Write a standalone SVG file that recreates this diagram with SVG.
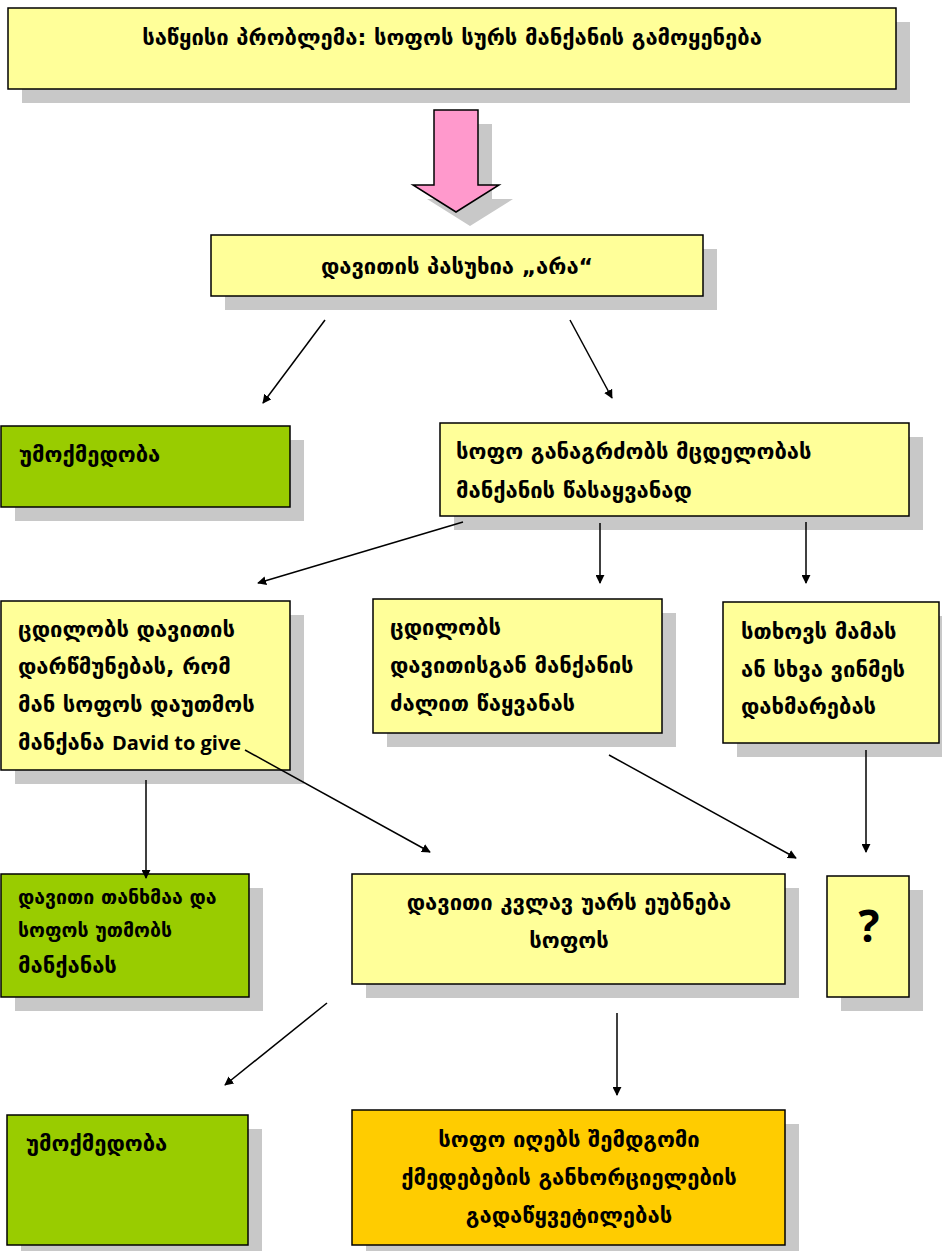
<svg xmlns="http://www.w3.org/2000/svg" width="942" height="1251" viewBox="0 0 942 1251">
<defs>
<style>
.sh{fill:#C8C8C8}
.y{fill:#FFFF99;stroke:#000;stroke-width:1.5}
.g{fill:#99CC00;stroke:#000;stroke-width:1.5}
.o{fill:#FFCC00;stroke:#000;stroke-width:1.5}
.t{font-family:"DejaVu Sans","Noto Sans",sans-serif;font-weight:bold;font-size:22px;fill:#000}
.c{text-anchor:middle}
.s{font-size:19.5px}
.l{font-family:"Open Sans","Liberation Sans",sans-serif;font-weight:bold;font-size:20px}
.cn line{stroke:#000;stroke-width:1.5;marker-end:url(#ah)}
</style>
<marker id="ah" viewBox="0 0 10 10" refX="9" refY="5" markerWidth="9" markerHeight="9" orient="auto" markerUnits="userSpaceOnUse">
<path d="M0,0 L10,5 L0,10 z" fill="#000"/>
</marker>
</defs>
<rect width="942" height="1251" fill="#fff"/>

<g id="n1">
<rect class="sh" x="22" y="22" width="888" height="81"/>
<rect class="y" x="8" y="8" width="888" height="81"/>
<text class="t c" x="452" y="45">საწყისი პრობლემა: სოფოს სურს მანქანის გამოყენება</text>
</g>

<g id="bigarrow">
<polygon class="sh" points="448,124 492,124 492,199 513,199 470,226 427,199 448,199"/>
<polygon points="434,110 478,110 478,185 499,185 456,212 413,185 434,185" fill="#FF99CC" stroke="#000" stroke-width="1.5"/>
</g>

<g id="n2">
<rect class="sh" x="225" y="249" width="492" height="61"/>
<rect class="y" x="211" y="235" width="492" height="61"/>
<text class="t c" x="457" y="274">დავითის პასუხია „არა“</text>
</g>

<g id="n3">
<rect class="sh" x="15" y="440" width="289" height="81"/>
<rect class="g" x="1" y="426" width="289" height="81"/>
<text class="t" x="19" y="462">უმოქმედობა</text>
</g>

<g id="n4">
<rect class="sh" x="454" y="437" width="469" height="93"/>
<rect class="y" x="440" y="423" width="469" height="93"/>
<text class="t" x="456" y="459">სოფო განაგრძობს მცდელობას</text>
<text class="t" x="456" y="498">მანქანის წასაყვანად</text>
</g>

<g id="n5">
<rect class="sh" x="15" y="615" width="289" height="169"/>
<rect class="y" x="1" y="601" width="289" height="169"/>
<text class="t" x="18" y="637">ცდილობს დავითის</text>
<text class="t" x="18" y="674">დარწმუნებას, რომ</text>
<text class="t" x="18" y="712">მან სოფოს  დაუთმოს</text>
<text class="t" x="18" y="750">მანქანა <tspan class="l">David to give</tspan></text>
</g>

<g id="n6">
<rect class="sh" x="387" y="613" width="289" height="134"/>
<rect class="y" x="373" y="599" width="289" height="134"/>
<text class="t" x="390" y="635">ცდილობს</text>
<text class="t" x="390" y="673">დავითისგან მანქანის</text>
<text class="t" x="390" y="711">ძალით წაყვანას</text>
</g>

<g id="n7">
<rect class="sh" x="737" y="616" width="216" height="141"/>
<rect class="y" x="723" y="602" width="216" height="141"/>
<text class="t" x="741" y="639">სთხოვს მამას</text>
<text class="t" x="741" y="677">ან სხვა ვინმეს</text>
<text class="t" x="741" y="714">დახმარებას</text>
</g>

<g id="n8">
<rect class="sh" x="15" y="888" width="248" height="123"/>
<rect class="g" x="1" y="874" width="248" height="123"/>
<text class="t s" x="18" y="904">დავითი თანხმაა და</text>
<text class="t s" x="18" y="937">სოფოს უთმობს</text>
<text class="t" x="18" y="973">მანქანას</text>
</g>

<g id="n9">
<rect class="sh" x="366" y="888" width="433" height="110"/>
<rect class="y" x="352" y="874" width="433" height="110"/>
<text class="t c" x="569" y="910">დავითი კვლავ უარს ეუბნება</text>
<text class="t c" x="569" y="948">სოფოს</text>
</g>

<g id="n10">
<rect class="sh" x="841" y="890" width="82" height="121"/>
<rect class="y" x="827" y="876" width="82" height="121"/>
<text x="869" y="942" text-anchor="middle" style="font-family:'Open Sans','Liberation Sans',sans-serif;font-weight:bold;font-size:44px">?</text>
</g>

<g id="n11">
<rect class="sh" x="21" y="1129" width="241" height="130"/>
<rect class="g" x="7" y="1115" width="241" height="130"/>
<text class="t" x="26" y="1151">უმოქმედობა</text>
</g>

<g id="n12">
<rect class="sh" x="366" y="1124" width="433" height="135"/>
<rect class="o" x="352" y="1110" width="433" height="135"/>
<text class="t c" x="569" y="1147">სოფო იღებს შემდგომი</text>
<text class="t c" x="569" y="1185">ქმედებების განხორციელების</text>
<text class="t c" x="569" y="1223">გადაწყვეტილებას</text>
</g>

<g id="connectors" class="cn">
<line x1="325" y1="320" x2="263" y2="403"/>
<line x1="570" y1="320" x2="612" y2="398"/>
<line x1="463" y1="522" x2="258" y2="583"/>
<line x1="600" y1="523" x2="600" y2="583"/>
<line x1="806" y1="522" x2="806" y2="583"/>
<line x1="146" y1="780" x2="146" y2="878"/>
<line x1="245" y1="750" x2="430" y2="852"/>
<line x1="609" y1="755" x2="796" y2="858"/>
<line x1="866" y1="750" x2="866" y2="852"/>
<line x1="327" y1="1003" x2="225" y2="1085"/>
<line x1="617" y1="1013" x2="617" y2="1095"/>
</g>
</svg>
